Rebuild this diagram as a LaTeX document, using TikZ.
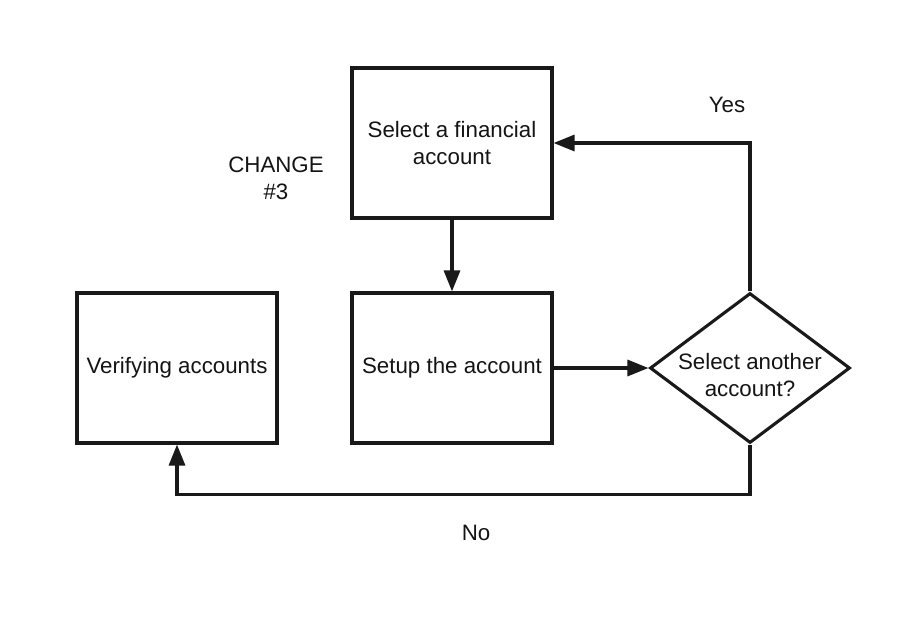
\documentclass[tikz,border=0pt]{standalone}
\usepackage{fontspec}
\setmainfont{Liberation Sans}
\usetikzlibrary{arrows.meta,shapes.geometric}
\begin{document}
\begin{tikzpicture}[x=1pt,y=-1pt,
  every node/.style={font=\fontsize{22.3}{27}\selectfont, text=black!92},
  box/.style={draw=black!90, line width=3.1pt, minimum width=200pt, minimum height=150pt, align=center, inner sep=0pt},
  conn/.style={draw=black!90, line width=3.1pt, -{Triangle[length=21pt,width=16pt]}},
  lbl/.style={align=center}]
\useasboundingbox (0,0) rectangle (900,625);
\node[box] (sel) at (452,143) {Select a financial\\account};
\node[box] (setup) at (452,368) {Setup the account};
\node[box] (ver) at (177,368) {Verifying accounts};
\node[draw=black!90, line width=3.1pt, inner sep=0pt] (dia) at (750,368) [shape=diamond, minimum width=200pt, minimum height=150pt, aspect=1.333] {};
\node[lbl] (dialbl) at (750,375) {Select another\\account?};
\node[lbl] (chg) at (276,178) {CHANGE\\\#3};
\node[lbl] (yes) at (727,105) {Yes};
\node[lbl] (no) at (476,533) {No};
\draw[conn] (sel) -- (setup);
\draw[conn] (setup) -- (dia);
\draw[conn] (dia.north) |- (sel.east);
\draw[conn] (dia.south) -- ++(0,50) -| (ver.south);
\end{tikzpicture}
\end{document}
